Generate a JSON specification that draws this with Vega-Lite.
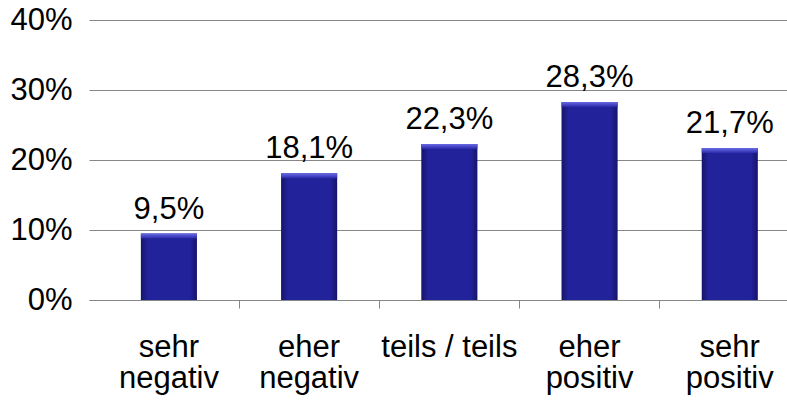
{
  "$schema": "https://vega.github.io/schema/vega-lite/v6.json",
  "width": 698,
  "height": 280,
  "autosize": {"type": "none"},
  "padding": {"left": 89, "top": 20, "right": 0, "bottom": 103},
  "background": "white",
  "config": {
    "view": {"stroke": null},
    "locale": {"number": {"decimal": ",", "thousands": ".", "grouping": [3], "currency": ["", " €"]}},
    "font": "Liberation Sans",
    "axis": {"labelFont": "Liberation Sans", "labelFontSize": 31, "labelColor": "#000000", "title": null}
  },
  "data": {
    "values": [
      {"cat": "sehr negativ", "v": 0.095},
      {"cat": "eher negativ", "v": 0.181},
      {"cat": "teils / teils", "v": 0.223},
      {"cat": "eher positiv", "v": 0.283},
      {"cat": "sehr positiv", "v": 0.217}
    ]
  },
  "layer": [
    {
      "mark": {
        "type": "bar",
        "color": {
          "gradient": "linear", "x1": 0, "y1": 0, "x2": 1, "y2": 0,
          "stops": [
            {"offset": 0, "color": "#15156a"},
            {"offset": 0.12, "color": "#22229a"},
            {"offset": 0.88, "color": "#22229a"},
            {"offset": 1, "color": "#15156a"}
          ]
        }
      },
      "encoding": {
        "x": {
          "field": "cat", "type": "nominal", "sort": null,
          "scale": {"paddingInner": 0.6, "paddingOuter": 0.289, "align": 0.64},
          "axis": {
            "orient": "bottom",
            "labelAngle": 0,
            "labelExpr": "datum.label == 'teils / teils' ? datum.label : split(datum.label, ' ')",
            "labelLineHeight": 31,
            "labelBaseline": "top",
            "labelPadding": 32,
            "ticks": false,
            "domain": false,
            "grid": false
          }
        },
        "y": {
          "field": "v", "type": "quantitative",
          "scale": {"domain": [0, 0.4], "nice": false},
          "axis": {
            "values": [0, 0.1, 0.2, 0.3, 0.4],
            "format": ".0%",
            "grid": true,
            "gridColor": "#878787",
            "gridOpacity": 1,
            "domain": false,
            "ticks": false,
            "labelPadding": 17
          }
        }
      }
    },
    {
      "mark": {
        "type": "bar",
        "y2Offset": 5,
        "color": {
          "gradient": "linear", "x1": 0, "y1": 0, "x2": 0, "y2": 1,
          "stops": [
            {"offset": 0, "color": "#6a6ae6"},
            {"offset": 1, "color": "#2a2aaa"}
          ]
        }
      },
      "encoding": {
        "x": {
          "field": "cat", "type": "nominal", "sort": null,
          "axis": {
            "orient": "bottom",
            "labels": false,
            "ticks": true,
            "tickSize": 8,
            "tickColor": "#878787",
            "domain": true,
            "domainColor": "#878787",
            "bandPosition": 1.75,
            "grid": false
          }
        },
        "y": {"field": "v", "type": "quantitative"},
        "y2": {"field": "v"}
      }
    },
    {
      "mark": {"type": "text", "baseline": "alphabetic", "dy": -15, "fontSize": 31, "font": "Liberation Sans", "color": "#000000"},
      "encoding": {
        "x": {"field": "cat", "type": "nominal", "sort": null, "axis": null},
        "y": {"field": "v", "type": "quantitative"},
        "text": {"field": "v", "type": "quantitative", "format": ".1%"}
      }
    }
  ],
  "resolve": {"axis": {"x": "independent"}}
}
